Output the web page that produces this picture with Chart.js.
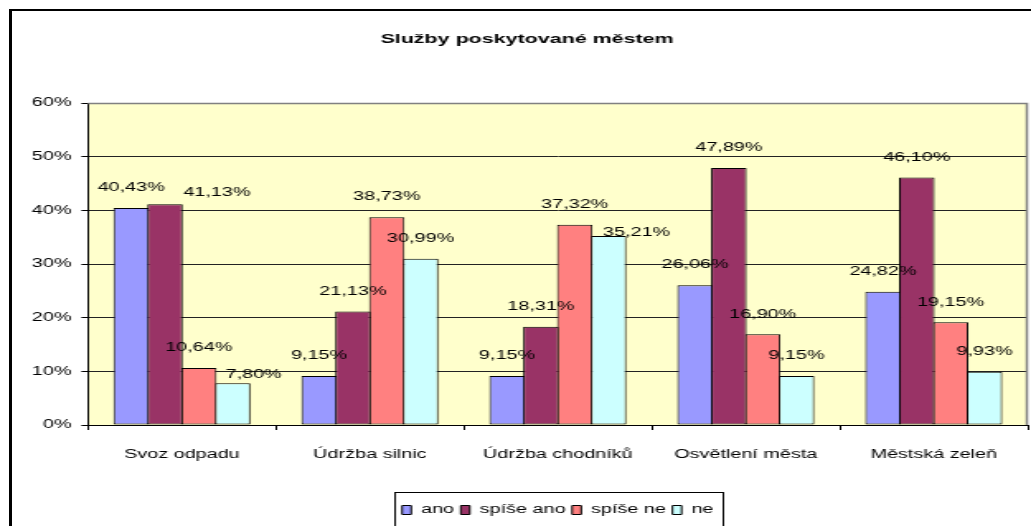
<!DOCTYPE html>
<html>
<head>
<meta charset="utf-8">
<script src="https://cdn.jsdelivr.net/npm/chart.js@4/dist/chart.umd.min.js"></script>
<style>
  html, body { margin: 0; padding: 0; width: 1031px; height: 526px; overflow: hidden; background: #fff; }
  #c { position: absolute; left: 0; top: 0; transform: scaleX(1.6496); transform-origin: 0 0; }
  #frame { position: absolute; left: 9px; top: 9px; width: 1100px; height: 600px;
           border-left: 3px solid #000; border-top: 2px solid #000; pointer-events: none; }
</style>
</head>
<body>
<canvas id="c" width="640" height="526"></canvas>
<div id="frame"></div>
<script>
const chartTitle = 'Služby poskytované městem';
const categories = ['Svoz odpadu', 'Údržba silnic', 'Údržba chodníků', 'Osvětlení města', 'Městská zeleň'];
const seriesNames = ['ano', 'spíše ano', 'spíše ne', 'ne'];
const ano      = [40.43,  9.15,  9.15, 26.06, 24.82];
const spiseAno = [41.13, 21.13, 18.31, 47.89, 46.10];
const spiseNe  = [10.64, 38.73, 37.32, 16.90, 19.15];
const ne       = [ 7.80, 30.99, 35.21,  9.15,  9.93];
const yTickValues = [0, 10, 20, 30, 40, 50, 60];

const STRETCH = 1.6496;
const FONT = "'Liberation Sans', Arial, sans-serif";
const colors = ['#9999FF', '#993366', '#FF8080', '#CCFFFF'];
// small nudges for overlapping labels (final pixels): "dataset-index": [dx, dy]
const labelNudges = { '1-0': [52, 8], '3-0': [21, 12], '3-2': [28, 17] };

const fmt = v => v.toFixed(2).replace('.', ',') + '%';

const plotBg = {
  id: 'plotBg',
  beforeDraw(chart) {
    const {ctx, chartArea: a} = chart;
    ctx.save();
    ctx.fillStyle = '#FFFFCC';
    ctx.fillRect(a.left, a.top, a.right - a.left, a.bottom - a.top);
    ctx.restore();
  },
  beforeDatasetsDraw(chart) {
    const {ctx, chartArea: a} = chart;
    ctx.save();
    ctx.strokeStyle = '#808080';
    ctx.lineWidth = 1.5;
    ctx.beginPath();
    ctx.moveTo(a.left, a.top + 0.5);
    ctx.lineTo(a.right - 0.5, a.top + 0.5);
    ctx.lineTo(a.right - 0.5, a.bottom);
    ctx.stroke();
    ctx.restore();
  }
};

const valueLabels = {
  id: 'valueLabels',
  afterDatasetsDraw(chart) {
    const {ctx} = chart;
    ctx.save();
    ctx.font = '12px ' + FONT;
    ctx.fillStyle = '#000';
    ctx.textAlign = 'center';
    ctx.textBaseline = 'middle';
    chart.data.datasets.forEach((ds, di) => {
      const meta = chart.getDatasetMeta(di);
      meta.data.forEach((el, i) => {
        const n = labelNudges[di + '-' + i] || [0, 0];
        ctx.fillText(fmt(ds.data[i]), el.x + n[0] / STRETCH, el.y - 20 + n[1]);
      });
    });
    ctx.restore();
  }
};

const legendBox = {
  id: 'legendBox',
  afterDraw(chart) {
    const lg = chart.legend;
    if (!lg || !lg.legendHitBoxes || !lg.legendHitBoxes.length) return;
    let minL = Infinity, maxR = -Infinity;
    lg.legendHitBoxes.forEach(h => { minL = Math.min(minL, h.left); maxR = Math.max(maxR, h.left + h.width); });
    const {ctx} = chart;
    ctx.save();
    ctx.strokeStyle = '#000';
    ctx.lineWidth = 1;
    ctx.strokeRect(Math.round(minL - 4.3) + 0.5, 492.5, Math.round(maxR - minL + 9.8), 60);
    ctx.restore();
  }
};

new Chart(document.getElementById('c'), {
  type: 'bar',
  data: {
    labels: categories,
    datasets: [ano, spiseAno, spiseNe, ne].map((d, i) => ({
      label: seriesNames[i],
      data: d,
      backgroundColor: colors[i],
      borderColor: '#000',
      borderWidth: 1,
      borderSkipped: false,
      categoryPercentage: 0.72,
      barPercentage: 1.05
    }))
  },
  options: {
    responsive: false,
    devicePixelRatio: 1,
    animation: false,
    layout: { padding: { left: 16, right: 17, top: 0, bottom: 0 } },
    plugins: {
      title: {
        display: true,
        text: chartTitle,
        color: '#000',
        font: { family: FONT, size: 13, weight: 'bold' },
        padding: { top: 32, bottom: 55.4 }
      },
      legend: {
        position: 'bottom',
        fullSize: false,
        labels: {
          color: '#000',
          font: { family: FONT, size: 12 },
          boxWidth: 5.5,
          boxHeight: 9,
          padding: 4
        }
      },
      tooltip: { enabled: false }
    },
    scales: {
      x: {
        afterFit(s) { s.height = 75; },
        grid: { display: true, drawOnChartArea: false, drawTicks: true, tickLength: 5, offset: true, color: '#000' },
        border: { color: '#000', width: 1 },
        ticks: { color: '#000', font: { family: FONT, size: 12 }, padding: 17, maxRotation: 0, autoSkip: false }
      },
      y: {
        min: 0,
        max: 60,
        afterFit(s) { s.width = 37.3; },
        afterBuildTicks(s) { s.ticks = yTickValues.map(v => ({ value: v })); },
        grid: {
          color: c => (c.tick && c.tick.value === 60) ? '#808080' : '#222',
          tickColor: '#000',
          tickLength: 4,
          lineWidth: 1
        },
        border: { color: '#000', width: 1 },
        ticks: { color: '#000', font: { family: FONT, size: 12 }, padding: 6, callback: v => v + '%' }
      }
    }
  },
  plugins: [plotBg, valueLabels, legendBox]
});
</script>
</body>
</html>
